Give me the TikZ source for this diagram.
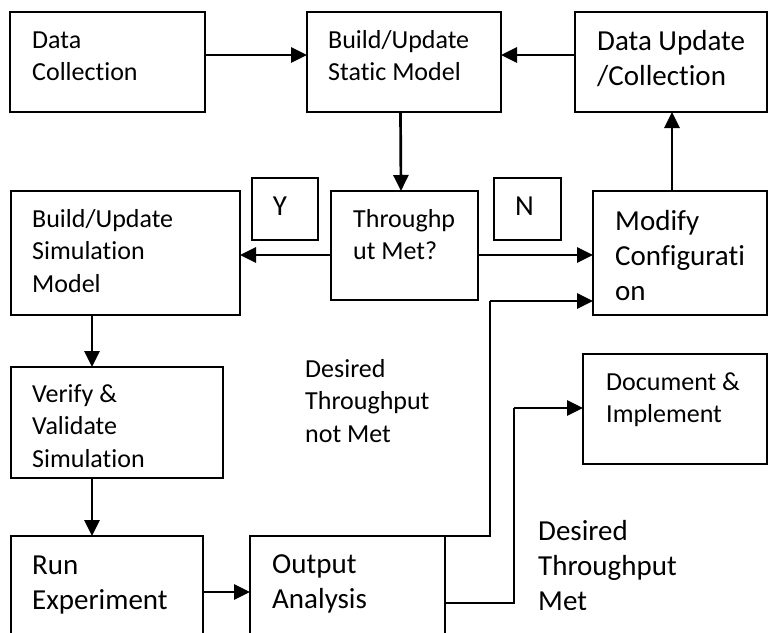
\documentclass[tikz,border=0pt]{standalone}
\usepackage{fontspec}
\setmainfont{Carlito}[Ligatures=NoCommon]
\usetikzlibrary{arrows.meta}
\begin{document}
\begin{tikzpicture}[x=1pt,y=-1pt,
  box/.style={draw, line width=1.8pt, inner sep=0pt, outer sep=0pt, anchor=north west},
  small/.style={anchor=base west, align=left, inner sep=0pt, font=\fontsize{26}{32.5}\selectfont},
  big/.style={anchor=base west, align=left, inner sep=0pt, font=\fontsize{29}{35}\selectfont},
  flow/.style={line width=2.7pt, -{Triangle[length=16pt,width=15pt]}},
  link/.style={line width=2.7pt}]
\useasboundingbox (0,0) rectangle (768,632);
\clip (0,0) rectangle (768,632);

% boxes
\node[box, minimum width=195pt, minimum height=100pt] (dc) at (10,12) {};
\node[box, minimum width=194pt, minimum height=100pt] (bs) at (307,12) {};
\node[box, minimum width=192pt, minimum height=100pt] (du) at (575,12) {};
\node[box, minimum width=66pt, minimum height=62pt] (yb) at (252,178) {};
\node[box, minimum width=67pt, minimum height=62pt] (nb) at (494,178) {};
\node[box, minimum width=147pt, minimum height=109pt] (tm) at (331,191) {};
\node[box, minimum width=174pt, minimum height=124pt] (mc) at (593,191) {};
\node[box, minimum width=229pt, minimum height=124pt] (bsim) at (11,191) {};
\node[box, minimum width=212pt, minimum height=111pt] (vv) at (11,367) {};
\node[box, minimum width=184pt, minimum height=110pt] (di) at (583,354) {};
\node[box, minimum width=192pt, minimum height=140pt] (re) at (11,536) {};
\node[box, minimum width=195pt, minimum height=140pt] (oa) at (250,536) {};

% texts (each placed by the baseline of its last line)
\node[small] (tdc) at (32,80.5) {Data\\Collection};
\node[small] (tbs) at (328,80.5) {Build/Update\\Static Model};
\node[big] (tdu) at (597,85) {Data Update\\/Collection};
\node[big, anchor=base] (ty) at (280,215) {Y};
\node[big, anchor=base] (tn) at (524.5,215) {N};
\node[small] (ttm) at (353,259.5) {Throughp\\ut Met?};
\node[big] (tmc) at (615,300) {Modify\\Configurati\\on};
\node[small] (tbsim) at (32,292) {Build/Update\\Simulation\\Model};
\node[small] (tvv) at (32,467) {Verify \&\\Validate\\Simulation};
\node[big] (tre) at (32,609) {Run\\Experiment};
\node[big] (toa) at (272,608) {Output\\Analysis};
\node[small] (tdi) at (606,422.5) {Document \&\\Implement};
\node[small] (tnm) at (305,442) {Desired\\Throughput\\not Met};
\begin{scope}
  \clip (500,500) rectangle (768,609);
  \node[big] (tmet) at (538,610) {Desired\\Throughput\\Met};
\end{scope}

% connectors
\draw[flow] ([yshift=7pt]dc.east) -- ([yshift=7pt]bs.west);
\draw[flow] ([yshift=7pt]du.west) -- ([yshift=7pt]bs.east);
\draw[flow] ([xshift=-3.5pt]bs.south) -- ([xshift=-3.5pt]tm.north);
\coordinate (mcup) at ([xshift=-8pt]mc.north);
\draw[flow] (mcup) -- (mcup |- du.south);
\coordinate (tmr) at ([yshift=-9.5pt]tm.east);
\draw[flow] (tmr) -- (tmr -| mc.west);
\coordinate (tml) at ([yshift=-9.5pt]tm.west);
\draw[flow] (tml) -- (tml -| bsim.east);
\coordinate (bsd) at (92,315);
\draw[flow] (bsd) -- (bsd |- vv.north);
\coordinate (vvd) at (92,478);
\draw[flow] (vvd) -- (vvd |- re.north);
\coordinate (rer) at (203,592);
\draw[flow] (rer) -- (rer -| oa.west);
\coordinate (oat) at (343,536);
\coordinate (nmc) at (490,301);
\draw[link] (oat) -- (oat -| nmc) -- (nmc);
\draw[flow] (nmc) -- (nmc -| mc.west);
\coordinate (oar) at (445,603);
\coordinate (ndi) at (514,408);
\draw[link] (oar) -- (oar -| ndi) -- (ndi);
\draw[flow] (ndi) -- (ndi -| di.west);
\end{tikzpicture}
\end{document}
